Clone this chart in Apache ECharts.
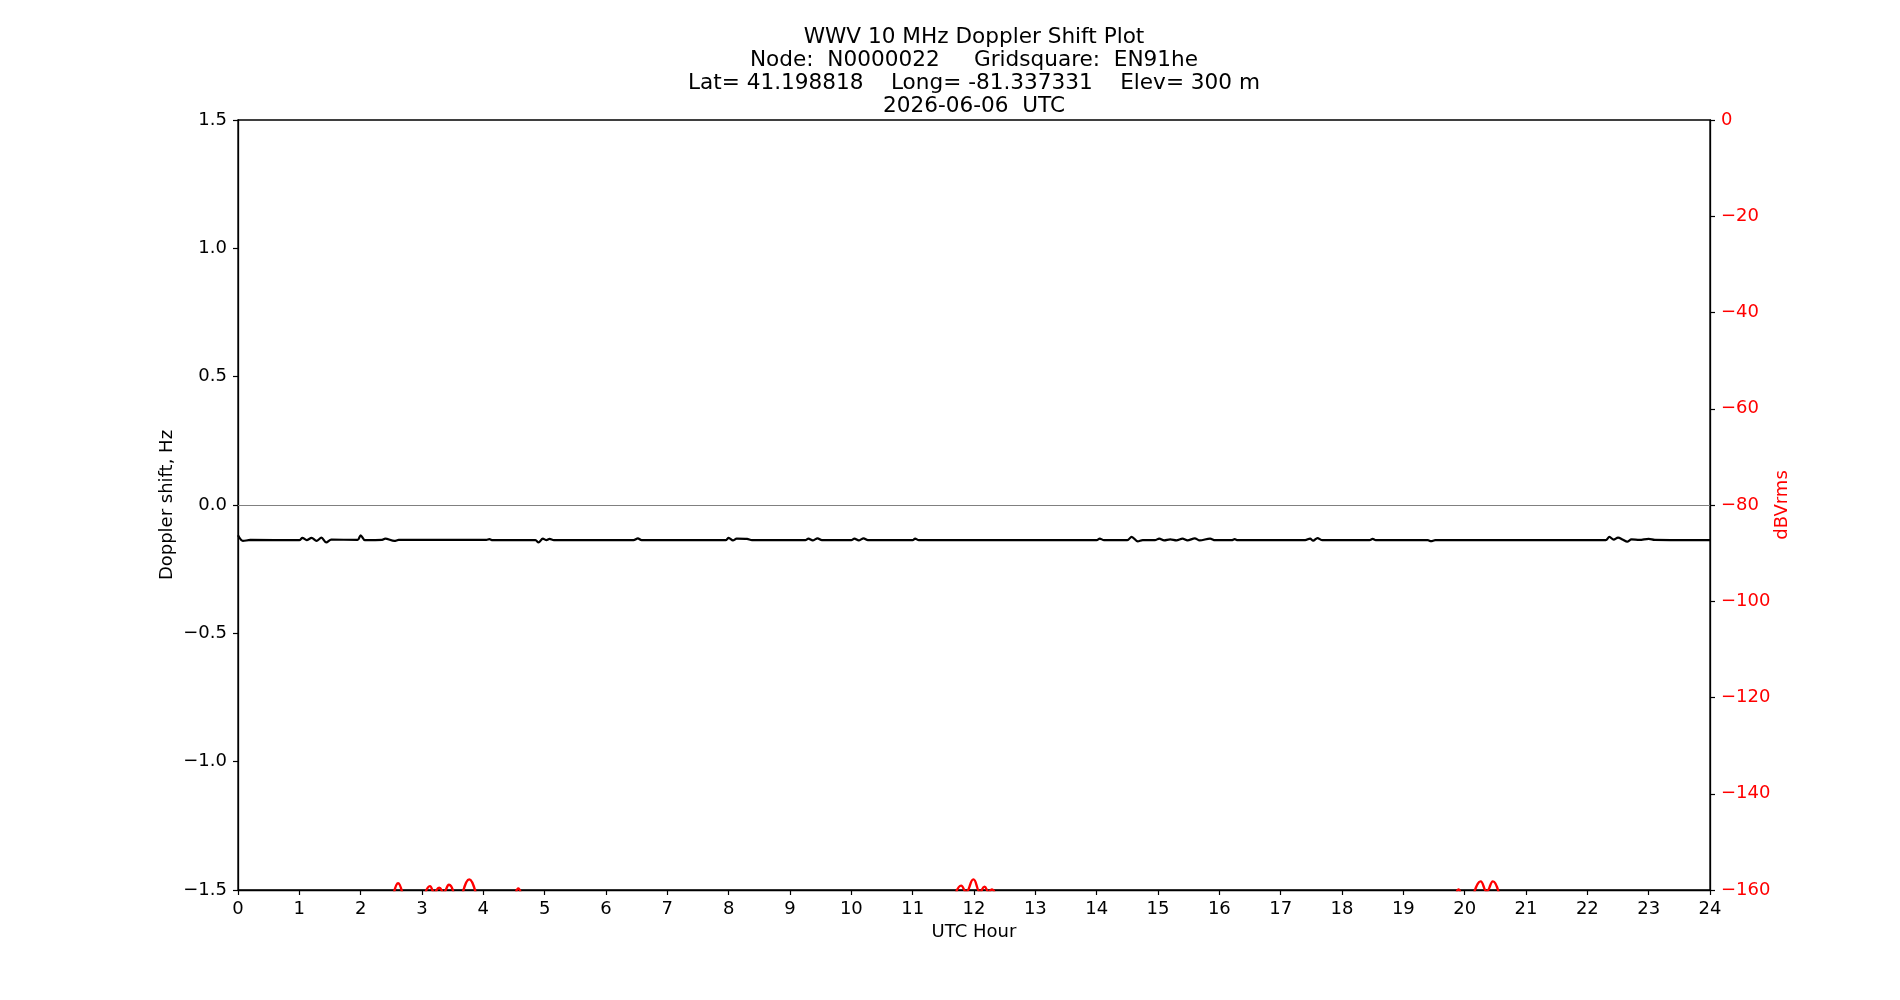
<!DOCTYPE html>
<html>
<head>
<meta charset="utf-8">
<title>WWV 10 MHz Doppler Shift Plot</title>
<script src="https://cdn.jsdelivr.net/npm/echarts@6/dist/echarts.min.js"></script>
<style>
  html, body { margin: 0; padding: 0; background: #fff; }
  #chart { width: 1900px; height: 1000px; }
</style>
</head>
<body>
<div id="chart"></div>
<script>
// ── 圖表資料 ────────────────────────────────────
const titleLines = [
  'WWV 10 MHz Doppler Shift Plot',
  'Node:  N0000022     Gridsquare:  EN91he',
  'Lat= 41.198818    Long= -81.337331    Elev= 300 m',
  '2026-06-06  UTC'
];

// Doppler shift (Hz) vs UTC hour
const dopplerHours = [
  0.00, 0.08, 0.20, 1.00, 1.05, 1.12, 1.20, 1.28, 1.36, 1.44, 1.52,
  1.95, 2.00, 2.07, 2.35, 2.40, 2.55, 2.62, 4.05, 4.10, 4.15,
  4.85, 4.90, 4.97, 5.03, 5.08, 5.15, 6.45, 6.52, 6.58,
  7.95, 8.00, 8.07, 8.13, 8.30, 8.38, 9.25, 9.30, 9.37, 9.45, 9.52,
  10.00, 10.05, 10.12, 10.20, 10.27, 11.00, 11.04, 11.10,
  14.00, 14.05, 14.12, 14.50, 14.57, 14.67, 14.75,
  14.95, 15.02, 15.10, 15.20, 15.30, 15.40, 15.48, 15.60, 15.68, 15.85, 15.93,
  16.20, 16.25, 16.30, 17.40, 17.48, 17.53, 17.60, 17.68,
  18.45, 18.50, 18.55, 19.40, 19.45, 19.52,
  22.30, 22.36, 22.43, 22.50, 22.58, 22.65, 22.72, 22.85, 23.00, 23.10, 24.00
];
const dopplerHz = [
  -0.118, -0.140, -0.136, -0.137, -0.128, -0.137, -0.128, -0.140, -0.127, -0.146, -0.135,
  -0.136, -0.118, -0.137, -0.136, -0.131, -0.140, -0.136, -0.136, -0.133, -0.137,
  -0.137, -0.146, -0.131, -0.137, -0.132, -0.137, -0.137, -0.130, -0.137,
  -0.137, -0.128, -0.138, -0.131, -0.132, -0.137, -0.137, -0.131, -0.138, -0.130, -0.137,
  -0.137, -0.131, -0.138, -0.130, -0.137, -0.137, -0.131, -0.137,
  -0.137, -0.131, -0.137, -0.137, -0.124, -0.142, -0.137,
  -0.137, -0.131, -0.138, -0.134, -0.138, -0.131, -0.138, -0.130, -0.138, -0.131, -0.137,
  -0.137, -0.133, -0.137, -0.137, -0.131, -0.139, -0.129, -0.137,
  -0.137, -0.132, -0.137, -0.137, -0.141, -0.137,
  -0.137, -0.124, -0.135, -0.127, -0.135, -0.143, -0.134, -0.136, -0.132, -0.136, -0.137
];

// Signal level (dBVrms) vs UTC hour — null = break in the trace
const levelHours = [
  2.54, 2.61, 2.68, null,
  3.05, 3.13, 3.20, 3.28, 3.35, 3.44, 3.52, null,
  3.66, 3.77, 3.88, null,
  4.53, 4.57, 4.61, null,
  11.70, 11.79, 11.87, 11.99, 12.10, 12.17, 12.24, 12.29, 12.34, null,
  19.87, 19.90, 19.93, null,
  20.15, 20.26, 20.36, 20.46, 20.56
];
const levelDb = [
  -160.8, -158.6, -160.8, null,
  -160.8, -159.2, -160.5, -159.5, -160.5, -158.9, -160.8, null,
  -160.8, -157.8, -160.8, null,
  -160.6, -159.7, -160.6, null,
  -160.8, -159.1, -160.4, -157.8, -160.4, -159.3, -160.4, -159.9, -160.6, null,
  -160.5, -159.9, -160.5, null,
  -160.8, -158.2, -160.3, -158.2, -160.8
];

const hourTicks = { min: 0, max: 24, step: 1 };
const hzTicks   = { min: -1.5, max: 1.5, step: 0.5 };
const dbTicks   = { min: -160, max: 0, step: 20 };

// ── 組裝 series 資料 ───────────────────────────────────
const dopplerData = dopplerHours.map((h, i) => [h, dopplerHz[i]]);
const levelData   = levelHours.map((h, i) => h == null ? [null, null] : [h, levelDb[i]]);

const minus = s => String(s).replace('-', '\u2212');
const FONT = 'DejaVu Sans';
const FS = 18;

// ── ECharts 初始化 ─────────────────────────────────────
const chart = echarts.init(document.getElementById('chart'), null, { renderer: 'canvas' });

const option = {
  backgroundColor: '#ffffff',
  animation: false,
  textStyle: { fontFamily: FONT },
  graphic: [{
    type: 'text',
    x: 974,
    y: 26,
    style: {
      text: titleLines.join('\n'),
      fontFamily: FONT,
      fontSize: 21.6,
      lineHeight: 23,
      fill: '#000',
      textAlign: 'center',
      textVerticalAlign: 'top'
    }
  }],
  grid: {
    left: 238, right: 190, top: 120, bottom: 110,
    show: true, borderColor: '#000', borderWidth: 1.3,
    backgroundColor: 'transparent'
  },
  xAxis: {
    type: 'value',
    min: hourTicks.min, max: hourTicks.max, interval: hourTicks.step,
    name: 'UTC Hour',
    nameLocation: 'middle',
    nameGap: 32,
    nameTextStyle: { color: '#000', fontSize: FS, fontFamily: FONT },
    axisLine: { show: true, onZero: false, lineStyle: { color: '#000', width: 1.3 } },
    axisTick: { show: true, length: 5, lineStyle: { color: '#000', width: 1.2 } },
    axisLabel: { color: '#000', fontSize: FS, fontFamily: FONT, margin: 10 },
    splitLine: { show: false }
  },
  yAxis: [
    {
      type: 'value',
      position: 'left',
      min: hzTicks.min, max: hzTicks.max, interval: hzTicks.step,
      name: 'Doppler shift, Hz',
      nameLocation: 'middle',
      nameGap: 62,
      nameMoveOverlap: false,
      nameRotate: 90,
      nameTextStyle: { color: '#000', fontSize: FS, fontFamily: FONT },
      axisLine: { show: true, onZero: false, lineStyle: { color: '#000', width: 1.3 } },
      axisTick: { show: true, length: 5, lineStyle: { color: '#000', width: 1.2 } },
      axisLabel: { color: '#000', fontSize: FS, fontFamily: FONT, margin: 11,
                   formatter: v => minus(v.toFixed(1)) },
      splitLine: { show: false }
    },
    {
      type: 'value',
      position: 'right',
      min: dbTicks.min, max: dbTicks.max, interval: dbTicks.step,
      name: 'dBVrms',
      nameLocation: 'middle',
      nameGap: 63,
      nameMoveOverlap: false,
      nameRotate: 90,
      nameTextStyle: { color: '#ff0000', fontSize: FS, fontFamily: FONT },
      axisLine: { show: true, onZero: false, lineStyle: { color: '#000', width: 1.3 } },
      axisTick: { show: true, length: 5, lineStyle: { color: '#000', width: 1.2 } },
      axisLabel: { color: '#ff0000', fontSize: FS, fontFamily: FONT, margin: 11,
                   formatter: v => minus(v) },
      splitLine: { show: false }
    }
  ],
  series: [
    {
      name: 'Doppler shift',
      type: 'line',
      yAxisIndex: 0,
      data: dopplerData,
      showSymbol: false,
      smooth: 0.3,
      clip: true,
      lineStyle: { color: '#000', width: 2.2 },
      itemStyle: { color: '#000' },
      z: 3,
      markLine: {
        silent: true,
        symbol: 'none',
        label: { show: false },
        lineStyle: { color: '#808080', type: 'solid', width: 1.2 },
        data: [{ yAxis: 0 }]
      }
    },
    {
      name: 'dBVrms',
      type: 'line',
      yAxisIndex: 1,
      data: levelData,
      showSymbol: false,
      smooth: 0.5,
      connectNulls: false,
      clip: true,
      lineStyle: { color: '#ff0000', width: 2.4 },
      itemStyle: { color: '#ff0000' },
      z: 2
    }
  ]
};

chart.setOption(option);
window.addEventListener('resize', () => chart.resize());
</script>
</body>
</html>
